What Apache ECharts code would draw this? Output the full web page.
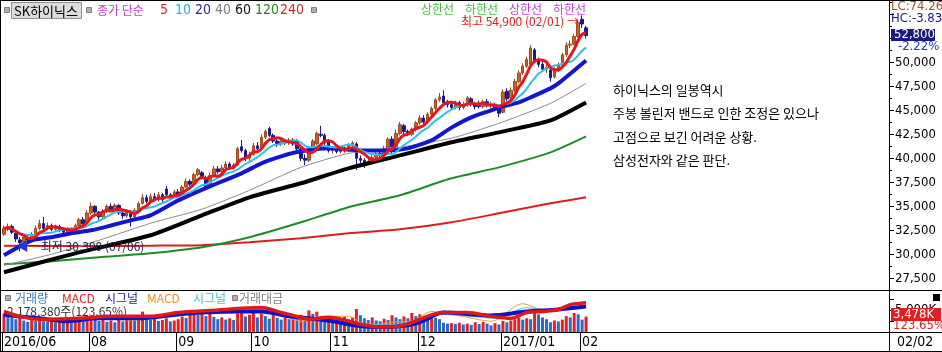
<!DOCTYPE html>
<html>
<head>
<meta charset="utf-8">
<script src="https://cdn.jsdelivr.net/npm/echarts@6/dist/echarts.min.js"></script>
<style>
  html, body { margin: 0; padding: 0; background: #fff; }
  #main { width: 942px; height: 352px; }
</style>
</head>
<body>
<div id="main"></div>
<script>
// SK하이닉스 일봉 2016/06/30 ~ 2017/02/02 (값은 그림에서 읽은 추정치)
var opens = [
  32100,32600,32900,32200,31500,31300,31800,31500,32100,32700,
  33200,32800,33000,32600,32900,32500,32300,32600,32400,33000,
  33600,33300,34300,35000,34400,33900,34500,35000,34700,35100,
  34300,34000,34500,33900,34600,35300,35900,35500,36000,35700,
  36200,36800,36200,36000,36500,36300,37000,37600,37400,38300,
  38500,38000,37200,38200,38900,38600,39000,39400,39000,39300,
  41200,40800,40000,40400,41300,41000,42200,43100,42400,41800,
  41500,41800,41600,41900,41800,41000,40000,39800,40600,41500,
  42500,42400,41800,40800,41100,40700,41000,40800,41400,41500,
  40000,39800,39500,39700,40100,40500,40300,41000,42000,41200,
  42600,43400,42800,42500,43000,43700,44200,43800,44600,45200,
  46100,46500,45800,45600,45300,45800,45300,45600,46200,45700,
  45700,45400,45900,45500,45600,45300,44800,47000,46300,47100,
  48000,48900,49600,49800,51300,50200,49800,49300,49200,48500,
  49200,49700,50800,51800,51900,52700,54500,53600
];
var closes = [
  32700,32900,32300,31600,31200,31800,31500,32100,32700,33200,
  32700,33000,32600,32900,32500,32300,32600,32400,33000,33600,
  33200,34300,35000,34400,33900,34500,35000,34700,35100,34300,
  34000,34500,33900,34600,35300,35900,35500,36000,35700,36200,
  35700,36200,36000,36500,36300,37000,37600,37300,38300,38800,
  38000,37000,38200,38900,38600,39000,39400,39000,39300,41000,
  40800,40000,40400,41300,41000,42200,42800,42400,41800,41500,
  41800,41600,41900,41500,41000,40000,39800,40600,41800,42600,
  42400,41600,40800,41100,40700,41000,40800,41400,41600,40000,
  39800,39400,39700,40100,40500,40300,41000,42000,41200,42600,
  43500,42800,42500,43000,43700,44200,43800,44600,45200,46100,
  46400,45800,45600,45300,45800,45300,45600,46300,45700,45400,
  45400,45900,45500,45600,45300,44700,46900,46200,47100,48000,
  48900,49600,50300,51500,50200,49800,49300,49500,48400,49200,
  49700,50800,51800,51900,52700,54200,54000,52800
];
var lows = [
  31900,32400,32100,31300,30300,31000,31300,31400,31900,32500,
  32600,32500,32400,32400,32300,32100,32100,32200,32300,32900,
  33000,33200,34100,34000,33600,33800,34300,34500,34500,34100,
  33700,33800,32900,33700,34500,35200,35300,35300,35500,35500,
  35400,36000,35800,35900,36100,36200,36900,37100,37300,38100,
  37800,36900,37100,38000,38400,38400,38800,38800,38800,39200,
  40600,39700,39700,40300,40800,40900,42000,42200,41600,41200,
  41300,41400,41400,41300,40800,39700,39300,39600,40500,41400,
  42200,41300,40600,40500,40500,40500,40600,40700,41200,38800,
  39400,39000,39300,39500,39900,40100,40100,40800,40500,41000,
  42400,42500,42300,42300,42800,43500,43500,43600,44400,45000,
  45900,45500,45300,45100,45100,45000,45100,45400,45400,45100,
  45200,45200,45300,45200,45000,44300,44700,45900,46100,46900,
  47800,48700,49400,49600,50000,49500,49000,48900,48000,48300,
  49000,49600,50600,51500,51800,52600,53600,52500
];
var highs = [
  33000,33200,33100,32400,31800,32000,32100,32300,33000,33600,
  33900,33300,33200,33100,33100,32700,32800,32800,33200,33800,
  33900,34600,35400,35100,34500,34700,35200,35300,35300,35200,
  34500,34700,34600,34800,35500,36300,36200,36300,36400,36500,
  36400,37100,36400,36700,36800,37200,37900,37800,38500,39000,
  38700,38200,38500,39200,39200,39300,39700,39600,39500,41200,
  41900,41000,40700,41600,41700,42500,43000,43300,42600,42000,
  42000,42000,42100,42100,42000,41100,40400,40800,42000,42800,
  43400,42600,42000,41300,41300,41300,41200,41600,41800,41700,
  40300,40000,40000,40400,40800,40900,41300,42200,42300,43000,
  43800,43600,43000,43200,43900,44500,44500,44800,45400,46300,
  46800,47100,46100,45900,46000,46000,45900,46500,46400,45900,
  46000,46100,46200,45900,45800,45500,47200,47300,47400,48300,
  49200,49900,50600,51800,51500,50500,50100,49800,49400,49500,
  50000,51000,52100,52300,53000,54400,54900,53800
];
// 거래량 (천주)
var volumes = [
  4200,3600,3300,2900,3800,2600,2300,2700,2500,3500,
  2900,2400,2600,2200,2500,2100,2300,2000,2600,2800,
  2400,3100,3600,2900,2500,2700,2300,2600,2200,2800,
  2400,2700,3300,2600,3800,4600,3200,2800,3000,2500,
  2700,3100,2400,2600,2900,3500,3200,4500,4900,3900,
  4700,3600,4800,3400,2900,3300,2800,3100,2700,4200,
  4400,3500,3900,4600,3300,4200,3600,3000,4900,3200,
  2800,3300,2900,3400,3000,3900,3300,4900,4100,4600,
  3200,2600,3000,2400,2800,2200,3400,2900,3300,5200,
  3800,3100,2700,3300,2600,2400,3000,2700,3800,3300,
  2900,3500,3100,4300,3600,4000,3300,3000,3500,3200,
  2900,2100,1900,2000,1800,2100,1700,1900,1600,2200,
  1800,2300,1900,1500,2000,1700,2500,2200,2600,2900,
  3250,2800,3100,2900,4700,4000,3300,2900,2200,2600,
  2400,2800,3600,3300,4300,4000,2813,3478
];

// 장기 이동평균 (그림에서 읽은 [봉 번호, 값])
var ma20Pts = [[0,29900],[7,31450],[12,31770],[17,32190],[22,32500],[27,33000],[32,33540],
  [37,34060],[44,35620],[52,37080],[60,38440],[65,39480],[70,40210],[75,40730],[82,41040],
  [90,40830],[97,40830],[102,41040],[108,41880],[113,43200],[118,44270],[123,45000],
  [125,45300],[130,45830],[133,46350],[138,47290],[140,47810],[147,50200]];
var ma40Pts = [[0,28850],[12,30000],[24,31460],[37,33230],[50,34700],[62,36670],[75,39060],
  [87,40520],[100,41150],[113,42100],[125,43650],[138,45730],[147,47810]];
var ma60Pts = [[0,28130],[18,30100],[37,31980],[50,34060],[62,35940],[75,37400],[87,38960],
  [100,40310],[113,41670],[125,42710],[138,43960],[147,45830]];
var ma120Pts = [[0,28960],[12,29270],[24,29690],[37,30100],[50,30730],[62,31770],[75,33330],
  [87,34900],[100,36150],[113,37920],[125,39060],[138,40620],[147,42290]];
var ma240Pts = [[0,30900],[24,30850],[37,30900],[50,30950],[62,31250],[75,31670],[87,32190],
  [100,32600],[113,33330],[125,34270],[138,35310],[147,35940]];

// MACD (원)
var macdPts = [[0,300],[4,50],[9,-100],[19,-50],[27,50],[37,50],[44,250],[52,350],[65,500],
  [70,250],[75,0],[77,-100],[82,0],[90,-350],[95,-500],[100,-450],[111,250],[117,250],
  [123,50],[128,-50],[132,250],[136,300],[140,400],[143,650],[147,750]];
var signalPts = [[0,150],[4,50],[9,-50],[16,-200],[24,-50],[34,-50],[44,150],[50,250],[60,300],
  [65,300],[72,50],[77,-50],[83,-200],[90,-450],[95,-500],[100,-450],[105,-250],[111,250],
  [123,100],[132,300],[140,400],[147,550]];
var macd2Pts = [[0,250],[5,-50],[12,-200],[22,50],[32,-150],[40,50],[47,300],[55,250],[65,400],
  [70,150],[75,-200],[80,50],[87,50],[92,-450],[98,-250],[103,-200],[108,300],[117,0],
  [123,-200],[131,700],[136,400],[140,450],[144,750],[147,700]];
var signal2Pts = [[0,100],[6,0],[14,-150],[24,-50],[34,-100],[44,150],[52,200],[62,300],[68,250],
  [74,-100],[82,-100],[90,-300],[97,-400],[104,-150],[110,150],[118,50],[124,-50],[132,500],
  [138,300],[144,550],[147,600]];

var monthStart = [0, 22, 44, 63, 83, 105, 126, 146];
var monthLabels = ['2016/06', '08', '09', '10', '11', '12', '2017/01', '02'];
var priceTicks = [27500, 30000, 32500, 35000, 37500, 40000, 42500, 45000, 47500, 50000];
var volTicks = [0, 2500, 5000, 7500];
var memo = ['하이닉스의 일봉역시', '주봉 볼린저 밴드로 인한 조정은 있으나', '고점으로 보긴 어려운 상황.', '삼성전자와 같은 판단.'];

var NCAT = 224;
var cats = [];
for (var i = 0; i < NCAT; i++) cats.push(i);

var KR = '"Noto Sans CJK KR", sans-serif';
var NUM = '"Liberation Sans Narrow", "DejaVu Sans Condensed", "Liberation Sans", sans-serif';

function fmt(v) { return String(v).replace(/\B(?=(\d{3})+(?!\d))/g, ','); }

function movingAvg(n) {
  return closes.map(function (c, i) {
    var s = Math.max(0, i - n + 1), sum = 0;
    for (var j = s; j <= i; j++) sum += closes[j];
    return Math.round(sum / (i - s + 1));
  });
}

var candles = [];
for (var k = 0; k < closes.length; k++) candles.push([opens[k], closes[k], lows[k], highs[k]]);

var last = closes[closes.length - 1];
var prev = closes[closes.length - 2];
var hiVal = Math.max.apply(null, highs);
var loVal = Math.min.apply(null, lows);

var majorTicks = [], minorTicks = [];
for (var t = 27500; t <= 55000; t += 2500) majorTicks.push(t);
for (var m = 26250; m <= 56250; m += 1250) minorTicks.push(m);

function isMonthStart(idx) { return monthStart.indexOf(idx) >= 0; }

function txt(x, y, s, color, font, z) {
  return { type: 'text', x: x, y: y, z: z || 100,
    style: { text: s, fill: color, font: font, align: 'left', verticalAlign: 'middle' } };
}
function line(x1, y1, x2, y2, color) {
  return { type: 'line', z: 100, shape: { x1: x1, y1: y1, x2: x2, y2: y2 },
    style: { stroke: color || '#000', lineWidth: 1 } };
}
function box(x, y, w, h, fill, stroke) {
  return { type: 'rect', z: 99, shape: { x: x, y: y, width: w, height: h },
    style: { fill: fill, stroke: stroke || null, lineWidth: 1 } };
}

function maLine(name, data, color, width) {
  return { name: name, type: 'line', xAxisIndex: 0, yAxisIndex: 0, data: data,
    showSymbol: false, symbol: 'none', smooth: 0.2, z: 3,
    lineStyle: { color: color, width: width } };
}
function lowLine(data, color, width) {
  return { type: 'line', xAxisIndex: 1, yAxisIndex: 3, data: data, showSymbol: false,
    symbol: 'none', smooth: 0.3, z: 4, lineStyle: { color: color, width: width } };
}

var graphics = [
  line(0, 0.5, 942, 0.5), line(0.5, 0, 0.5, 352), line(0, 290.5, 942, 290.5),
  line(0, 332.5, 942, 332.5), line(0, 351.5, 942, 351.5), line(889.5, 0, 889.5, 352),
  // 상단 범례
  box(4.5, 7.5, 5, 5, '#b0b0b0', '#808080'),
  box(11.5, 2.5, 70, 16, '#dcdcdc', '#909090'),
  txt(14, 11, 'SK하이닉스', '#000', '13px ' + KR),
  box(86.5, 7.5, 5, 5, '#b0b0b0', '#808080'),
  txt(97, 10, '종가 단순', '#c838c8', '12px ' + KR),
  txt(160, 10, '5', '#d03030', '14px ' + NUM),
  txt(175, 10, '10', '#30b0d0', '14px ' + NUM),
  txt(195, 10, '20', '#2828a0', '14px ' + NUM),
  txt(215, 10, '40', '#808080', '14px ' + NUM),
  txt(235, 10, '60', '#101010', '14px ' + NUM),
  txt(255, 10, '120', '#208820', '14px ' + NUM),
  txt(280, 10, '240', '#d02828', '14px ' + NUM),
  box(311.5, 7.5, 5, 5, '#b0b0b0', '#808080'),
  txt(421, 9, '상한선', '#40c040', '12px ' + KR),
  txt(465, 9, '하한선', '#40c040', '12px ' + KR),
  txt(509, 9, '상한선', '#c040e0', '12px ' + KR),
  txt(553, 9, '하한선', '#c040e0', '12px ' + KR),
  // 오른쪽 값 표시
  txt(891, 7, 'LC:' + ((last - loVal) / loVal * 100).toFixed(2), '#a0522d', '13px ' + NUM),
  txt(891, 19, 'HC:' + ((last - hiVal) / hiVal * 100).toFixed(2), '#1a1a80', '13px ' + NUM),
  box(891, 29, 44, 12, '#1a1a80'),
  txt(894, 35, fmt(last), '#fff', '13px ' + NUM),
  txt(898, 47, ((last - prev) / prev * 100).toFixed(2) + '%', '#2040c0', '13px ' + NUM),
  // 하단 패널 범례
  box(5.5, 295.5, 5, 5, '#b0b0b0', '#808080'),
  txt(15, 298, '거래량', '#3a7ab8', '12px ' + KR),
  txt(62, 298, 'MACD', '#e02020', '12px ' + KR),
  txt(105, 298, '시그널', '#2020a0', '12px ' + KR),
  txt(147, 298, 'MACD', '#e8902a', '12px ' + KR),
  txt(193, 298, '시그널', '#40c0e0', '12px ' + KR),
  box(232.5, 295.5, 5, 5, '#b0b0b0', '#808080'),
  txt(239, 298, '거래대금', '#808080', '12px ' + KR),
  txt(7, 311, '2,178,380주(123.65%)', '#333', '12px ' + KR, 1),
  box(891, 308, 50, 13, '#e02020'),
  txt(893, 314.5, fmt(volumes[volumes.length - 1]) + 'K', '#fff', '13px ' + NUM),
  txt(893, 326, '123.65%', '#e02020', '13px ' + NUM),
  box(933, 294, 7, 7, '#000'),
  txt(897, 342, '02/02', '#000', '14px ' + NUM)
];
memo.forEach(function (s, i) {
  graphics.push(txt(613, 90 + i * 23.3, s, '#000', '13px ' + KR));
});

var option = {
  animation: false,
  backgroundColor: '#fff',
  grid: [
    { left: 2, right: 53, top: 2, height: 288 },
    { left: 2, right: 53, top: 290, height: 42 }
  ],
  xAxis: [
    { type: 'category', gridIndex: 0, data: cats, boundaryGap: true,
      axisLine: { show: false }, axisTick: { show: false }, axisLabel: { show: false }, splitLine: { show: false } },
    { type: 'category', gridIndex: 1, data: cats, boundaryGap: true,
      axisLine: { show: false },
      axisTick: { show: true, interval: isMonthStart, length: 19, lineStyle: { color: '#000' } },
      axisLabel: { show: true, interval: isMonthStart, align: 'left', margin: 3,
        color: '#000', fontSize: 14, fontFamily: NUM,
        formatter: function (v, idx) { return monthLabels[monthStart.indexOf(idx)] || ''; } },
      splitLine: { show: false } }
  ],
  yAxis: [
    { type: 'value', gridIndex: 0, position: 'right', min: 26276, max: 56297, offset: 0,
      splitLine: { show: false },
      axisLine: { show: true, lineStyle: { color: '#000' } },
      axisTick: { show: true, customValues: majorTicks, length: 5, lineStyle: { color: '#000' } },
      axisLabel: { customValues: priceTicks, formatter: fmt, color: '#000', fontSize: 13, fontFamily: NUM, margin: 6 } },
    { type: 'value', gridIndex: 0, position: 'right', min: 26276, max: 56297, offset: 0,
      splitLine: { show: false }, axisLine: { show: false },
      axisTick: { show: true, customValues: minorTicks, length: 3, lineStyle: { color: '#000' } },
      axisLabel: { show: false } },
    { type: 'value', gridIndex: 1, position: 'right', min: 0, max: 9500, offset: 0,
      splitLine: { show: false },
      axisLine: { show: true, lineStyle: { color: '#000' } },
      axisTick: { show: true, customValues: volTicks, length: 5, lineStyle: { color: '#000' } },
      axisLabel: { customValues: [5000], formatter: function (v) { return fmt(v) + 'K'; },
        color: '#000', fontSize: 13, fontFamily: NUM, margin: 6 } },
    { type: 'value', gridIndex: 1, min: -750, max: 1400, show: false }
  ],
  series: [
    { type: 'candlestick', xAxisIndex: 0, yAxisIndex: 0, data: candles, barWidth: 3, z: 2,
      itemStyle: { color: '#c0622c', color0: '#1a1a90', borderColor: '#a04a1c', borderColor0: '#1a1a90', borderWidth: 1 },
      markPoint: {
        symbol: 'circle', symbolSize: 0,
        data: [
          { type: 'max', valueDim: 'highest',
            label: { position: 'left', distance: 3, offset: [0, 6], color: '#e02020', fontSize: 12, fontFamily: KR,
              formatter: '최고 ' + fmt(hiVal) + ' (02/01) →' } },
          { type: 'min', valueDim: 'lowest',
            label: { position: [-3, -11], color: '#2a2050', fontSize: 12, fontFamily: KR,
              formatter: '{a|◀}{b|─최저 ' + fmt(loVal) + ' (07/06)}',
              rich: { a: { color: '#1e3cd0', fontSize: 12, fontFamily: KR },
                      b: { color: '#2a2050', fontSize: 12, fontFamily: KR } } } }
        ]
      } },
    maLine('240', ma240Pts, '#dc1e1e', 2),
    maLine('120', ma120Pts, '#1e8c28', 2),
    maLine('60', ma60Pts, '#000000', 4),
    maLine('40', ma40Pts, '#8c8c8c', 1),
    maLine('20', ma20Pts, '#1414d2', 4),
    maLine('10', movingAvg(10), '#30c0e8', 2),
    maLine('5', movingAvg(5), '#e8141e', 3),
    { type: 'bar', xAxisIndex: 1, yAxisIndex: 2, data: volumes, barWidth: 3, z: 2,
      itemStyle: { color: function (p) {
        var i = p.dataIndex;
        return (i === 0 || volumes[i] >= volumes[i - 1]) ? '#e82020' : '#2a6ac8';
      } } },
    lowLine(macd2Pts, '#f0a030', 1),
    lowLine(signal2Pts, '#40c8e8', 1),
    lowLine(signalPts, '#1010c8', 4),
    lowLine(macdPts, '#e01818', 3.5)
  ],
  graphic: graphics
};

var chart = echarts.init(document.getElementById('main'));
chart.setOption(option);
</script>
</body>
</html>
